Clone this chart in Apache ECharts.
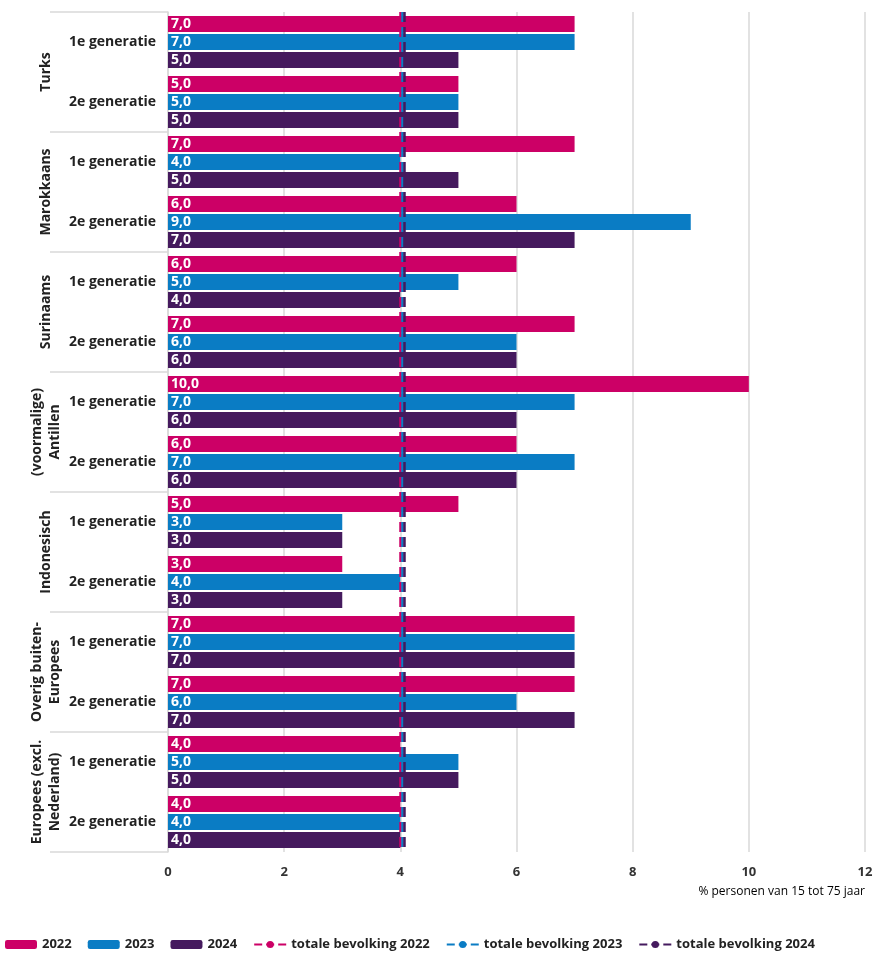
<!DOCTYPE html><html><head><meta charset="utf-8"><script src="https://cdn.jsdelivr.net/npm/echarts@6/dist/echarts.min.js"></script></head><body style="margin:0"><div id="c" style="width:892px;height:962px"></div><script>
const groups=['Turks','Marokkaans','Surinaams','(voormalige)\nAntillen','Indonesisch','Overig buiten-\nEuropees','Europees (excl.\nNederland)'];
const subs=['1e generatie','2e generatie'];
const cats=[];groups.forEach((g,i)=>subs.forEach(s=>cats.push(i+'|'+s)));
const v2022=[7,5,7,6,6,7,10,6,5,3,7,7,4,4];
const v2023=[7,5,4,9,5,6,7,7,3,4,7,6,5,4];
const v2024=[5,5,5,7,4,6,6,6,3,3,7,7,5,4];
const totals=[4.0,4.03,4.07];
const years=['2022','2023','2024'];
const colors=['#cc0066','#0a7cc4','#451a5e'];
const vals=[v2022,v2023,v2024];
const chart=echarts.init(document.getElementById('c'));
const series=[];
years.forEach((y,i)=>series.push({name:y,type:'bar',data:vals[i],barWidth:16,barGap:'12%',barCategoryGap:'14%',itemStyle:{color:colors[i]},
 label:{show:true,position:'insideLeft',offset:[-2,0],color:'#fff',fontWeight:'bold',fontSize:14,fontFamily:'Open Sans',formatter:p=>p.value.toFixed(1).replace('.',',')}}));
years.forEach((y,i)=>series.push({name:'totale bevolking '+y,type:'line',data:[],symbol:'none',itemStyle:{color:colors[i]},lineStyle:{color:colors[i],type:'dashed',width:2.5},
 markLine:{silent:true,symbol:'none',label:{show:false},lineStyle:{color:colors[i],type:'dashed',width:2.5},data:[{xAxis:totals[i]}]}}));
chart.setOption({animation:false,
 textStyle:{fontFamily:'Open Sans'},
 grid:{left:168,right:27,top:12,bottom:110},
 xAxis:{type:'value',min:0,max:12,interval:2,name:'% personen van 15 tot 75 jaar',nameLocation:'end',nameGap:0,
  nameTextStyle:{align:'right',verticalAlign:'top',padding:[34,0,0,0],fontSize:12,color:'#000'},
  axisLabel:{color:'#333',fontWeight:'bold',fontSize:13,margin:14},splitLine:{lineStyle:{color:'#d9d9d9',width:1.5}},axisLine:{show:false}},
 yAxis:{type:'category',data:cats,inverse:true,axisTick:{show:false},axisLine:{lineStyle:{color:'#d9d9d9',width:1.5}},
  axisLabel:{formatter:v=>v.split('|')[1],color:'#222',fontWeight:'bold',fontSize:14,margin:12}},
 legend:{bottom:6,left:0,itemWidth:32,itemHeight:9,itemGap:16,textStyle:{fontSize:13,fontWeight:'bold',color:'#222'},
  data:years.concat(years.map(y=>'totale bevolking '+y))},
 series});
const g=[];
groups.forEach((name,i)=>{
 const yTop=chart.convertToPixel({yAxisIndex:0},cats[2*i])-30;
 const yBot=chart.convertToPixel({yAxisIndex:0},cats[2*i+1])+30;
 g.push({type:'line',shape:{x1:50,y1:yTop,x2:168,y2:yTop},style:{stroke:'#d9d9d9',lineWidth:1.5}});
 if(i===groups.length-1)g.push({type:'line',shape:{x1:50,y1:yBot,x2:168,y2:yBot},style:{stroke:'#d9d9d9',lineWidth:1.5}});
 g.push({type:'text',x:46,y:(yTop+yBot)/2,rotation:Math.PI/2,style:{text:name,fontSize:14,fontWeight:'bold',fill:'#222',fontFamily:'Open Sans',align:'center',verticalAlign:'middle',lineHeight:18}});
});
chart.setOption({graphic:g});
</script></body></html>
